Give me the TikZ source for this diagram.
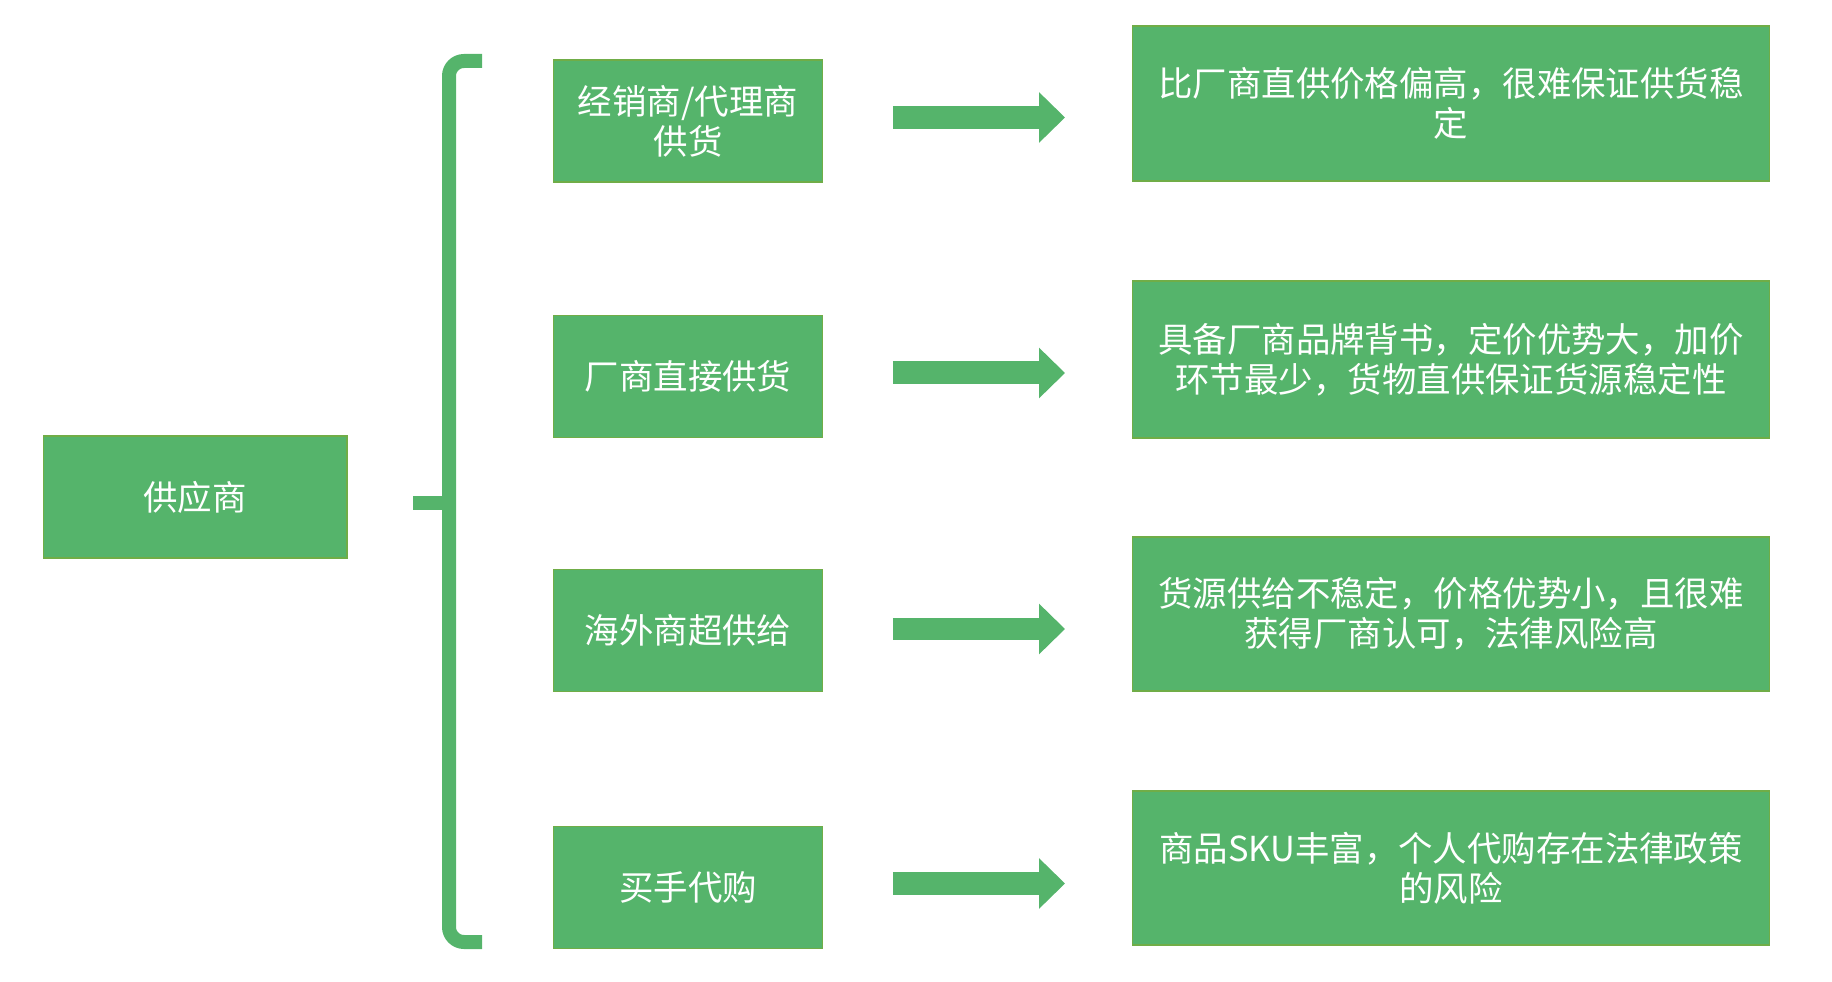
\documentclass[tikz,border=0pt]{standalone}
\usepackage{fontspec}
\setmainfont{Noto Sans CJK SC}
\usetikzlibrary{arrows.meta}
\definecolor{boxgreen}{RGB}{85,180,107}
\definecolor{edgegreen}{RGB}{112,173,71}
\tikzset{
  box/.style={draw=edgegreen, fill=boxgreen, text=white, line width=0.6pt,
    inner sep=0pt, align=center, font=\fontsize{19.6pt}{22.7pt}\selectfont},
  src/.style={box, minimum width=5.38cm, minimum height=2.44cm},
  note/.style={box, minimum width=12.74cm, minimum height=3.1cm},
  fat/.style={draw=boxgreen, line width=0.46cm,
    -{Triangle[width=0.98cm,length=0.52cm]}, shorten <=1.4cm, shorten >=1.34cm},
}
\begin{document}
\begin{tikzpicture}[x=0.02cm, y=-0.02cm]
      \useasboundingbox (0,0) rectangle (1832,982);
      \draw
        (195,497) node[box, minimum width=6.08cm, minimum height=2.44cm] (sup){供应商}
        (688,121) node[src] (l1){经销商/代理商\\供货}
        (688,376.5) node[src] (l2){厂商直接供货}
        (688,630.5) node[src] (l3){海外商超供给}
        (688,887.5) node[src] (l4){买手代购}
        (1451,103.5) node[note, minimum height=3.1cm] (r1){比厂商直供价格偏高，很难保证供货稳\\定}
        (1451,359.5) node[note, minimum height=3.14cm] (r2){具备厂商品牌背书，定价优势大，加价\\环节最少，货物直供保证货源稳定性}
        (1451,614) node[note, minimum height=3.08cm] (r3){货源供给不稳定，价格优势小，且很难\\获得厂商认可，法律风险高}
        (1451,868) node[note, minimum height=3.08cm] (r4){商品SKU丰富，个人代购存在法律政策\\的风险};
      % brace
      \draw[boxgreen, line width=0.28cm, rounded corners=0.3cm]
        (482,61) -- (449,61) -- (449,942) -- (482,942);
      \draw[boxgreen, line width=0.28cm] (449,503) -- (413,503);
      \begin{scope}[fat]
        \draw ([yshift=0.07cm]l1.east) to ([yshift=0.07cm]l1.east -| r1.west);
        \draw ([yshift=0.07cm]l2.east) to ([yshift=0.07cm]l2.east -| r2.west);
        \draw ([yshift=0.03cm]l3.east) to ([yshift=0.03cm]l3.east -| r3.west);
        \draw ([yshift=0.08cm]l4.east) to ([yshift=0.08cm]l4.east -| r4.west);
      \end{scope}
    \end{tikzpicture}
\end{document}
